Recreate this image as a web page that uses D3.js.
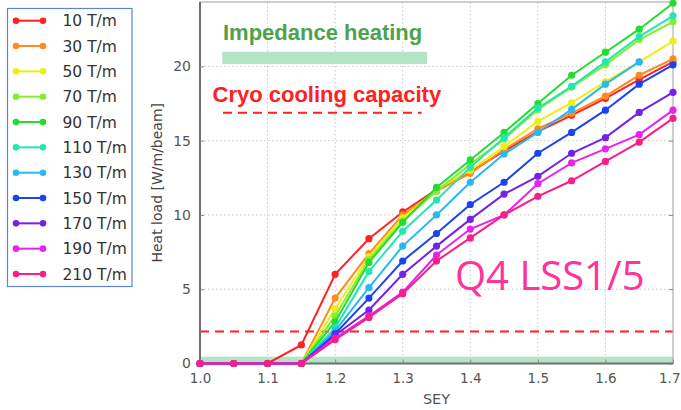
<!DOCTYPE html>
<html><head><meta charset="utf-8">
<script src="https://cdn.jsdelivr.net/npm/d3@7"></script>
<style>body{margin:0;background:#fff}svg{display:block}</style>
</head><body><svg id="c" width="681" height="410"></svg>
<script>
const sey = [1.0,1.05,1.1,1.15,1.2,1.25,1.3,1.35,1.4,1.45,1.5,1.55,1.6,1.65,1.7];
const labels = ["10 T/m","30 T/m","50 T/m","70 T/m","90 T/m","110 T/m","130 T/m","150 T/m","170 T/m","190 T/m","210 T/m"];
const colors = ["#ff2222","#ff8a1e","#eeee10","#86ee2a","#22dd30","#22e8b0","#28b8f4","#1a44f0","#7224e6","#e624f0","#fa1e86"];
const s10  = [0,0,0,1.25,6.0,8.4,10.2,11.7,12.9,14.3,15.6,16.7,17.85,19.1,20.3];
const s30  = [0,0,0,0,4.4,7.4,10.0,11.6,12.8,14.4,15.8,16.85,18.0,19.4,20.5];
const s50  = [0,0,0,0,3.7,7.2,9.8,11.7,13.0,14.6,16.3,17.55,18.95,20.3,21.7];
const s70  = [0,0,0,0,3.2,7.0,9.6,11.6,13.4,15.1,17.1,18.6,20.1,21.8,23.0];
const s90  = [0,0,0,0,2.8,6.8,9.5,11.85,13.7,15.55,17.5,19.4,20.95,22.5,24.25];
const s110 = [0,0,0,0,2.4,6.2,8.9,11.0,13.2,15.2,17.2,18.65,20.3,22.0,23.4];
const s130 = [0,0,0,0,2.2,5.1,7.9,10.0,12.2,14.1,15.55,17.1,18.8,20.3,null];
const s150 = [0,0,0,0,2.0,4.4,6.9,8.75,10.7,12.2,14.15,15.55,17.05,18.8,20.1];
const s170 = [0,0,0,0,1.9,3.6,6.0,7.9,9.7,11.4,12.6,14.15,15.2,16.9,18.25];
const s190 = [0,0,0,0,1.7,3.2,4.8,7.3,9.05,10.0,12.1,13.5,14.45,15.4,17.05];
const s210 = [0,0,0,0,1.6,3.1,4.7,6.9,8.45,10.0,11.25,12.3,13.6,14.9,16.5];
const seriesValues = [s10,s30,s50,s70,s90,s110,s130,s150,s170,s190,s210];
const xTicks = [1.0,1.1,1.2,1.3,1.4,1.5,1.6,1.7];
const yTicks = [0,5,10,15,20];
const cryoLimit = 2.15;
const impedanceBand = 0.46;

const svg = d3.select("#c");
const L=200, R=673, T=2, B=363.5;
const x = d3.scaleLinear().domain([1.0,1.7]).range([L,R]);
const y = d3.scaleLinear().domain([0,24.33]).range([B,T]);

// grid
const g = svg.append("g");
g.selectAll(".gx").data(xTicks.slice(1,-1)).join("line")
  .attr("x1",d=>x(d)).attr("x2",d=>x(d)).attr("y1",T).attr("y2",B)
  .attr("stroke","#c8c8c8").attr("stroke-width",1).attr("stroke-dasharray","1.5,2.5");
g.selectAll(".gy").data(yTicks.slice(1)).join("line")
  .attr("x1",L).attr("x2",R).attr("y1",d=>y(d)).attr("y2",d=>y(d))
  .attr("stroke","#c8c8c8").attr("stroke-width",1).attr("stroke-dasharray","1.5,2.5");

// impedance band at bottom
svg.append("rect").attr("x",L).attr("width",R-L).attr("y",y(impedanceBand)).attr("height",y(0)-y(impedanceBand))
  .attr("fill","#b4e4c6");
// cryo limit dashed line
svg.append("line").attr("x1",L).attr("x2",R).attr("y1",y(cryoLimit)).attr("y2",y(cryoLimit))
  .attr("stroke","#ff2020").attr("stroke-width",2).attr("stroke-dasharray","9,6");

// frame
svg.append("rect").attr("x",L).attr("y",T).attr("width",R-L).attr("height",B-T)
  .attr("fill","none").attr("stroke","#b0b0b0").attr("stroke-width",1.2);
svg.append("line").attr("x1",L).attr("x2",L).attr("y1",T).attr("y2",B).attr("stroke","#707070").attr("stroke-width",2);
svg.append("line").attr("x1",L).attr("x2",R).attr("y1",B).attr("y2",B).attr("stroke","#707070").attr("stroke-width",2);

// axes
const ax = svg.append("g").attr("transform",`translate(0,${B})`)
  .call(d3.axisBottom(x).tickValues(xTicks).tickFormat(d3.format(".1f")).tickSize(-4).tickPadding(10));
ax.select(".domain").remove();
ax.selectAll("line").attr("stroke","#888");
ax.selectAll("text").attr("font-family","DejaVu Sans").attr("font-size","13.5px").attr("fill","#555");
ax.selectAll("text").filter(d=>d===1.7).attr("text-anchor","end").attr("dx","7");
const ay = svg.append("g").attr("transform",`translate(${L},0)`)
  .call(d3.axisLeft(y).tickValues(yTicks).tickSize(-4).tickPadding(9));
ay.select(".domain").remove();
ay.selectAll("line").attr("stroke","#888");
ay.selectAll("text").attr("font-family","DejaVu Sans").attr("font-size","14px").attr("fill","#555");
const ayr = svg.append("g").attr("transform",`translate(${R},0)`)
  .call(d3.axisRight(y).tickValues(yTicks).tickSize(-4).tickFormat(""));
ayr.select(".domain").remove(); ayr.selectAll("line").attr("stroke","#888");

svg.append("text").attr("x",(L+R)/2).attr("y",404).attr("text-anchor","middle")
  .attr("font-family","DejaVu Sans").attr("font-size","14.5px").attr("fill","#555").text("SEY");
svg.append("text").attr("transform",`translate(162,${(T+B)/2}) rotate(-90)`).attr("text-anchor","middle")
  .attr("font-family","DejaVu Sans").attr("font-size","14px").attr("fill","#444").text("Heat load [W/m/beam]");

// series
const line = d3.line().defined(d=>d[1]!==null).x(d=>x(d[0])).y(d=>y(d[1]));
seriesValues.forEach((vals,i)=>{
  const pts = sey.map((s,j)=>[s,vals[j]]);
  const sg = svg.append("g");
  sg.append("path").datum(pts).attr("d",line).attr("fill","none").attr("stroke",colors[i]).attr("stroke-width",2);
  sg.selectAll("circle").data(pts.filter(d=>d[1]!==null)).join("circle")
    .attr("cx",d=>x(d[0])).attr("cy",d=>y(d[1])).attr("r",3.6).attr("fill",colors[i]);
});

// annotations
svg.append("text").attr("x",x(1.034)).attr("y",y(21.8)).attr("font-family","Liberation Sans").attr("font-weight","bold")
  .attr("font-size","22px").attr("fill","#4ea24e").text("Impedance heating");
svg.append("rect").attr("x",x(1.033)).attr("width",x(1.336)-x(1.033)).attr("y",y(20.98)).attr("height",y(20.15)-y(20.98))
  .attr("fill","#b4e4c6");
svg.append("text").attr("x",x(1.0185)).attr("y",y(17.6)).attr("font-family","Liberation Sans").attr("font-weight","bold")
  .attr("font-size","22px").attr("fill","#ff2020").text("Cryo cooling capacity");
svg.append("line").attr("x1",x(1.034)).attr("x2",x(1.328)).attr("y1",y(16.88)).attr("y2",y(16.88))
  .attr("stroke","#ff2020").attr("stroke-width",2).attr("stroke-dasharray","9,6");
svg.append("text").attr("x",455).attr("y",290).attr("font-family","Open Sans")
  .attr("font-size","40px").attr("fill","#ff3399").text("Q4 LSS1/5");

// legend
const lg = svg.append("g");
lg.append("rect").attr("x",7.5).attr("y",8.5).attr("width",124.5).attr("height",278)
  .attr("fill","#fff").attr("stroke","#5b87c8").attr("stroke-width",1.2);
labels.forEach((lab,i)=>{
  const yy = 20.7 + i*25.33;
  lg.append("line").attr("x1",16).attr("x2",43).attr("y1",yy).attr("y2",yy).attr("stroke",colors[i]).attr("stroke-width",2);
  [16,43].forEach(cx=>lg.append("circle").attr("cx",cx).attr("cy",yy).attr("r",3.3).attr("fill",colors[i]));
  lg.append("text").attr("x",62.5).attr("y",yy).attr("dy","0.36em").attr("font-family","DejaVu Sans")
    .attr("font-size","15.5px").attr("fill","#333").text(lab);
});
</script></body></html>
